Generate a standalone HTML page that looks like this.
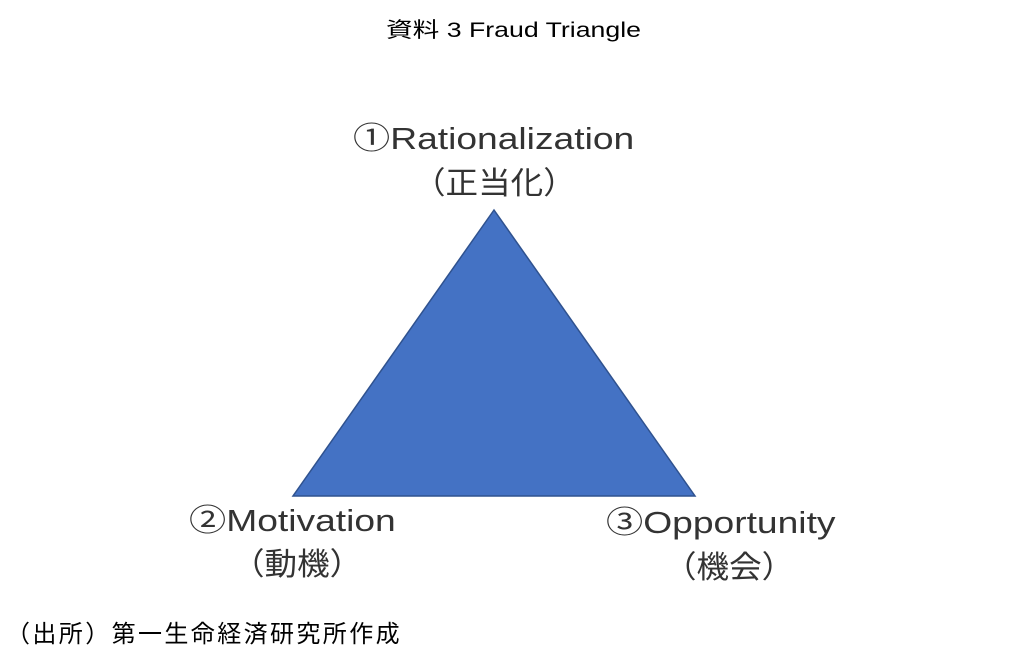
<!DOCTYPE html>
<html><head><meta charset="utf-8"><style>
body{margin:0;width:1023px;height:664px;background:#fff;position:relative;overflow:hidden;font-family:"Liberation Sans","Noto Sans CJK JP",sans-serif;color:#222}
.t{position:absolute;white-space:nowrap;transform-origin:0 0}
.big{font-size:31px;color:#333}
.w{transform:scaleX(1.2)}
</style></head><body>
<div class="t" style="left:386px;top:14px;font-size:21px;color:#000;transform:scaleX(1.27)">資料 3 Fraud Triangle</div>
<svg style="position:absolute;left:0;top:0" width="1023" height="664">
<polygon points="494,210 293,496 695,496" fill="#4472C4" stroke="#2F528F" stroke-width="1.5"/>
</svg>
<div class="t big w" style="left:353px;top:113px">①Rationalization</div>
<div class="t big" style="left:413px;top:158px;transform:scaleX(1.05)">（正当化）</div>
<div class="t big w" style="left:189px;top:495px">②Motivation</div>
<div class="t big" style="left:232px;top:539px;transform:scaleX(1.05)">（動機）</div>
<div class="t big w" style="left:606px;top:497px">③Opportunity</div>
<div class="t big" style="left:664px;top:542px;transform:scaleX(1.05)">（機会）</div>
<div class="t" style="left:6px;top:614px;font-size:24px;letter-spacing:2.4px;color:#000">（出所）第一生命経済研究所作成</div>
</body></html>
